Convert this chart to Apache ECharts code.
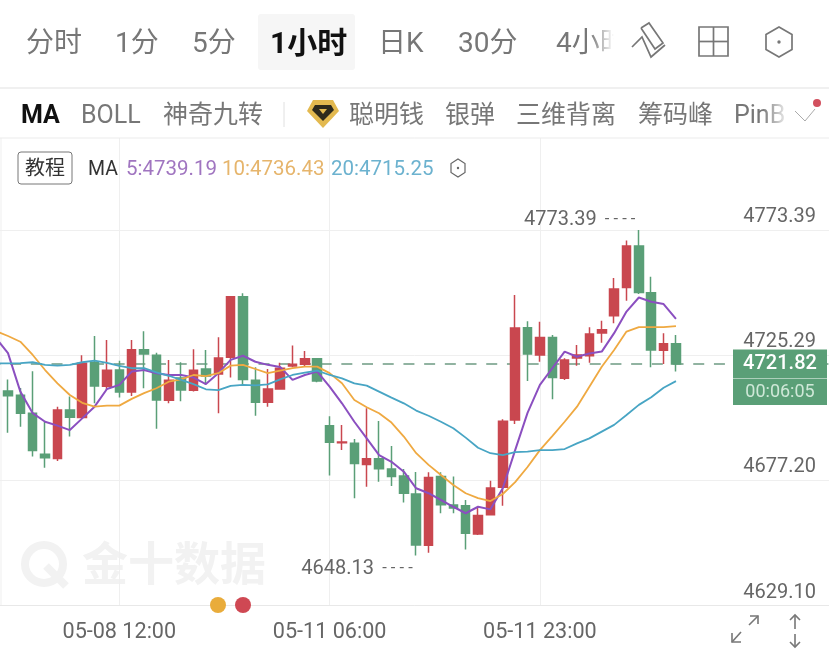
<!DOCTYPE html>
<html><head><meta charset="utf-8">
<style>html,body{margin:0;padding:0;background:#fff}#c{width:829px;height:651px}</style>
<script src="https://cdn.jsdelivr.net/npm/echarts@6/dist/echarts.min.js"></script>
</head><body><div id="c"></div>
<script>
// Categories: the first slot sits partly off the left edge (MA lines start there, candle scrolled out)
const times = ['05-08 02:00','05-08 03:00','05-08 04:00','05-08 05:00','05-08 06:00','05-08 07:00','05-08 08:00','05-08 09:00','05-08 10:00','05-08 11:00','05-08 12:00','05-08 13:00','05-08 14:00','05-08 15:00','05-08 16:00','05-08 17:00','05-08 18:00','05-08 19:00','05-08 20:00','05-08 21:00','05-08 22:00','05-08 23:00','05-09 00:00','05-09 01:00','05-09 02:00','05-09 03:00','05-09 04:00','05-11 06:00','05-11 07:00','05-11 08:00','05-11 09:00','05-11 10:00','05-11 11:00','05-11 12:00','05-11 13:00','05-11 14:00','05-11 15:00','05-11 16:00','05-11 17:00','05-11 18:00','05-11 19:00','05-11 20:00','05-11 21:00','05-11 22:00','05-11 23:00','05-12 00:00','05-12 01:00','05-12 02:00','05-12 03:00','05-12 04:00','05-12 05:00','05-12 06:00','05-12 07:00','05-12 08:00','05-12 09:00','05-12 10:00'];
const emptySlots = ['','','','','','','','','','','',''];
const xTickLabels = ['05-08 12:00','05-11 06:00','05-11 23:00'];
const yTickValues = [4629.10,4677.20,4725.29,4773.39];
const yMin = 4629.10, yMax = 4808.78;
const lastPrice = 4721.82, countdown = '00:06:05';
const highPrice = 4773.39, lowPrice = 4648.13;
// [open, close, low, high]
const candles = [
['-','-','-','-'],
[4711.4,4709.6,4695.4,4715.9],[4709.8,4702.9,4697.7,4712.6],[4702.9,4688.5,4686.2,4719.0],[4687.1,4685.8,4681.9,4699.6],[4685.5,4704.1,4684.5,4705.4],
[4704.1,4701.3,4693.9,4709.3],[4701.2,4722.1,4701.0,4725.2],[4722.5,4713.4,4706.7,4732.6],[4713.3,4719.4,4711.8,4731.1],[4719.5,4711.1,4708.9,4723.1],
[4711.1,4727.3,4709.5,4731.1],[4727.3,4725.7,4712.5,4734.4],[4725.2,4708.0,4696.9,4726.2],[4707.9,4715.6,4706.7,4723.4],[4716.4,4711.8,4707.5,4722.5],
[4711.7,4719.4,4711.2,4727.5],[4719.9,4717.2,4713.8,4727.2],[4718.0,4724.1,4702.9,4732.1],[4724.4,4747.7,4716.6,4748.0],[4747.7,4715.9,4713.8,4749.0],
[4715.6,4707.1,4701.9,4720.6],[4707.1,4712.2,4705.4,4719.9],[4712.2,4720.2,4712.0,4722.3],[4721.1,4721.7,4720.6,4728.9],[4721.7,4723.8,4721.1,4726.8],
[4723.8,4715.3,4714.8,4724.0],[4698.1,4691.7,4678.9,4701.7],[4691.5,4691.8,4688.7,4698.4],[4691.3,4683.5,4670.2,4693.0],[4683.2,4685.4,4674.6,4704.8],
[4685.4,4681.5,4676.5,4699.9],[4681.4,4678.5,4674.9,4690.3],[4678.7,4672.1,4668.5,4681.4],[4671.8,4652.2,4648.13,4680.3],[4652.1,4678.2,4649.2,4680.2],
[4678.5,4667.7,4664.4,4680.2],[4667.6,4666.4,4664.4,4678.5],[4667.3,4656.7,4650.5,4669.5],[4656.4,4663.5,4656.0,4666.5],[4663.8,4674.1,4663.6,4676.9],
[4674.4,4699.8,4667.3,4700.6],[4700.3,4735.7,4698.7,4748.4],[4735.8,4725.7,4715.3,4738.3],[4725.3,4732.0,4722.7,4738.1],[4732.0,4716.6,4708.3,4733.0],
[4716.3,4723.4,4715.7,4724.0],[4724.1,4725.3,4721.2,4729.1],[4725.0,4733.4,4722.3,4736.0],[4733.8,4735.0,4730.0,4738.5],[4740.4,4750.7,4737.5,4754.9],
[4751.3,4767.2,4746.2,4769.3],[4767.2,4749.3,4748.8,4773.39],[4749.2,4727.2,4720.6,4755.4],[4727.1,4729.6,4721.8,4733.7],[4729.6,4721.82,4718.9,4733.0]
];
const ma5 = [4732.0,4726.0,4711.2,4702.9,4699.6,4698.1,4696.4,4700.9,4705.4,4712.2,4713.8,4718.9,4719.5,4718.3,4717.6,4717.6,4716.6,4714.1,4718.3,4723.4,4725.0,4722.7,4721.5,4720.7,4715.7,4717.6,4718.9,4713.1,4706.7,4699.6,4693.2,4686.8,4684.2,4680.4,4674.0,4672.1,4669.5,4666.9,4664.4,4666.9,4665.9,4674.0,4688.7,4703.0,4713.8,4720.2,4726.6,4724.6,4725.9,4726.6,4733.7,4742.0,4747.4,4745.8,4744.9,4739.19];
const ma10 = [4734.5,4732.6,4730.4,4725.3,4719.5,4714.4,4709.9,4706.9,4705.4,4705.8,4705.8,4708.4,4710.6,4712.5,4715.0,4715.9,4717.6,4717.2,4718.3,4721.2,4721.5,4719.9,4718.3,4719.3,4720.2,4720.8,4720.8,4718.3,4714.4,4708.0,4705.2,4702.9,4699.3,4693.9,4687.5,4683.0,4679.1,4675.3,4672.1,4670.2,4669.1,4671.8,4676.4,4682.2,4688.7,4694.1,4699.6,4705.4,4713.1,4720.8,4727.2,4734.3,4736.0,4736.0,4736.0,4736.43];
const ma20 = [4722.1,4722.1,4722.2,4722.5,4721.5,4721.2,4721.5,4722.5,4723.1,4722.3,4721.1,4720.2,4720.2,4718.6,4717.3,4715.7,4714.1,4712.1,4711.8,4713.4,4713.8,4713.6,4714.0,4715.9,4717.6,4718.5,4719.3,4717.6,4716.3,4714.4,4713.5,4711.2,4708.9,4706.7,4703.9,4701.9,4699.6,4697.1,4693.5,4689.6,4687.5,4686.8,4687.9,4688.1,4688.7,4688.7,4689.1,4691.3,4693.2,4695.8,4698.4,4702.2,4706.1,4709.0,4712.7,4715.25];
const periodTabs = ['分时','1分','5分','1小时','日K','30分','4小时'];
const indicatorTabs = ['MA','BOLL','神奇九转','聪明钱','银弹','三维背离','筹码峰','PinB'];
const maLegend = ['5:4739.19','10:4736.43','20:4715.25'];

const RED='#C9474F', GREEN='#5A9F77', AX='#666', GRID='#EFEFEF';
const FONT='Roboto,"Noto Sans CJK SC",sans-serif';
const txt=(text,x,y,size,fill,weight,align,z)=>({type:'text',x,y,silent:true,z:z==null?100:z,style:{text,fill,textAlign:align||'left',textVerticalAlign:'middle',font:(weight||'normal')+' '+size+'px '+FONT}});
const ln=(x1,y1,x2,y2,c,w,z)=>({type:'line',silent:true,z:z==null?100:z,shape:{x1,y1,x2,y2},style:{stroke:c,lineWidth:w||1}});
const poly=(pts,c,w)=>({type:'polyline',silent:true,z:102,shape:{points:pts},style:{stroke:c,lineWidth:w||1.6,fill:null,lineJoin:'miter'}});
const hex=(cx,cy,rw,rh,c,w)=>[{type:'polygon',silent:true,z:102,shape:{points:[[cx,cy-rh],[cx+rw,cy-rh/2],[cx+rw,cy+rh/2],[cx,cy+rh],[cx-rw,cy+rh/2],[cx-rw,cy-rh/2]]},style:{stroke:c,lineWidth:w,fill:'none'}},{type:'circle',silent:true,z:102,shape:{cx,cy,r:w},style:{fill:c}}];
const fade=(x,y,w,h)=>({type:'rect',silent:true,z:101,shape:{x,y,width:w,height:h},style:{fill:new echarts.graphic.LinearGradient(0,0,1,0,[{offset:0,color:'rgba(255,255,255,0)'},{offset:1,color:'#fff'}])}});

const periodX=[26,115,192,270,378,458,556];
const indicatorX=[21,81,163,349,445,516,638,734];
const graphics=[
 // header
 {type:'rect',silent:true,z:50,shape:{x:258,y:14,width:97,height:56,r:3},style:{fill:'#F6F6F6'}},
 ...periodTabs.map((s,i)=>txt(s,periodX[i],45,i===3?30:28,i===3?'#111':'#777',i===3?'bold':'normal')),
 fade(590,20,24,50),
 {type:'rect',silent:true,z:101,shape:{x:614,y:15,width:215,height:55},style:{fill:'#fff'}},
 // pencil, grid, hexagon icons
 poly([[641,28],[649,23],[663,43],[655,49],[641,28]],'#777',1.7),
 poly([[632,47],[642,37],[651,57],[665,45]],'#777',1.7),
 {type:'rect',silent:true,z:102,shape:{x:699,y:27,width:29,height:29},style:{stroke:'#777',lineWidth:1.7,fill:'none'}},
 ln(713.5,27,713.5,56,'#777',1.7,102), ln(699,41.5,728,41.5,'#777',1.7,102),
 ...hex(779,42,13,15,'#777',1.7),
 ln(0,88,829,88,'#EBEBEB',1.5),
 ...indicatorTabs.map((s,i)=>txt(s,indicatorX[i],117,25,i===0?'#111':'#777',i===0?'bold':'normal')),
 ln(284,102,284,127,'#E0E0E0',1),
 {type:'polygon',silent:true,z:100,shape:{points:[[313,100],[333,100],[339,111],[323,128],[307,111]]},style:{fill:'#E3B94F'}},
 {type:'polygon',silent:true,z:100,shape:{points:[[315,105],[331,105],[334,110],[323,121],[312,110]]},style:{fill:'#2E2A1C'}},
 {type:'polygon',silent:true,z:100,shape:{points:[[319,109],[327,109],[323,114]]},style:{fill:'#E3B94F'}},
 fade(762,100,28,30),
 poly([[795,111],[805,121],[815,109]],'#AAA',1),
 {type:'circle',silent:true,z:102,shape:{cx:817,cy:103,r:4},style:{fill:'#D2505E'}},
 ln(0,138,829,138,'#EBEBEB',1),
 ln(1,138,1,605,GRID,1,0),
 // legend row
 {type:'rect',silent:true,z:100,shape:{x:18,y:152,width:54,height:32,r:3},style:{stroke:'#777',lineWidth:1,fill:'#fff'}},
 txt('教程',45,170,20,'#333','normal','center'),
 txt('MA',88,170,19.5,'#333'),
 txt(maLegend[0],126,170,20.5,'#A075C0'),
 txt(maLegend[1],222,170,20.5,'#E6B56C'),
 txt(maLegend[2],331,170,20.5,'#6CB2CF'),
 ...hex(458,168,7,9,'#666',1.2),
 // watermark
 {type:'circle',silent:true,z:0,shape:{cx:44,cy:564,r:19},style:{fill:'none',stroke:'#F2F2F2',lineWidth:8}},
 ln(46,566,66,586,'#F2F2F2',8,0),
 txt('金十数据',82,568,46,'#F2F2F2','bold','left',0),
 // pagination dots
 {type:'circle',silent:true,z:100,shape:{cx:218,cy:605,r:8},style:{fill:'#E9AC3B'}},
 {type:'circle',silent:true,z:100,shape:{cx:243,cy:605,r:8},style:{fill:'#CF4853'}},
 // bottom-right controls
 ln(741,632,732,642,'#777',1.6), poly([[732,633],[732,642],[741,642]],'#777',1.6),
 ln(749,625,758,616,'#777',1.6), poly([[750,616],[758,616],[758,624]],'#777',1.6),
 ln(795,615,795,629,'#777',1.6), poly([[790,620],[795,615],[800,620]],'#777',1.6),
 ln(795,634,795,647,'#777',1.6), poly([[790,642],[795,647],[800,642]],'#777',1.6)
];

const chart=echarts.init(document.getElementById('c'),null,{renderer:'canvas'});
const hit=v=>xTickLabels.includes(v);
chart.setOption({
 animation:false,
 backgroundColor:'#fff',
 textStyle:{fontFamily:FONT},
 graphic:{elements:graphics},
 grid:{left:-10.57,right:-1.6,top:138,bottom:46,containLabel:false,outerBoundsMode:'none'},
 xAxis:{type:'category',data:[...times,...emptySlots],boundaryGap:true,
  axisLine:{lineStyle:{color:'#E8E8E8',width:1}},axisTick:{show:false},
  axisLabel:{interval:(i,v)=>hit(v),color:AX,fontSize:21.6,margin:16.5,hideOverlap:false,fontFamily:FONT},
  splitLine:{show:true,alignWithLabel:true,interval:(i,v)=>hit(v),lineStyle:{color:GRID,width:1}}},
 yAxis:{type:'value',position:'right',min:yMin,max:yMax,scale:true,
  axisLine:{show:false},axisTick:{show:false,customValues:yTickValues},
  axisLabel:{customValues:yTickValues,inside:true,margin:14.6,color:AX,fontSize:20,verticalAlign:'bottom',lineHeight:25,formatter:v=>v.toFixed(2),showMinLabel:true,showMaxLabel:true,fontFamily:FONT},
  splitLine:{show:true,lineStyle:{color:GRID,width:1}}},
 series:[
  {type:'line',data:[],z:1,silent:true,
   markLine:{silent:true,z:1,symbol:['none','none'],animation:false,
    lineStyle:{color:'#6E9A83',type:[11,9.7],width:1.6},
    label:{show:true,position:'end',align:'right',verticalAlign:'top',distance:0,offset:[-3.6,-15],
     formatter:()=>'{a|'+lastPrice.toFixed(2)+'}\n{b|'+countdown+'}',
     rich:{a:{color:'#fff',fontSize:20,fontWeight:500,width:94,height:29,lineHeight:30,align:'center',backgroundColor:GREEN,fontFamily:FONT},
           b:{color:'#CFE8D8',fontSize:18,width:94,height:26,lineHeight:26,align:'center',backgroundColor:GREEN,fontFamily:FONT}}},
    data:[{yAxis:lastPrice}]}},
  {type:'candlestick',name:'K',data:candles,z:2,barWidth:9,
   itemStyle:{color:RED,color0:GREEN,borderColor:RED,borderColor0:GREEN,borderWidth:1.5},
   markPoint:{silent:true,symbol:'circle',symbolSize:1,animation:false,itemStyle:{color:'rgba(0,0,0,0)'},
    label:{show:true,position:'left',distance:3,offset:[0,-10],color:AX,fontFamily:FONT,
     formatter:p=>'{t|'+p.value.toFixed(2)+'}{d|  - - - -}',
     rich:{t:{fontSize:20,color:AX,fontFamily:FONT},d:{fontSize:16.5,color:AX,fontFamily:FONT}}},
    data:[{coord:[times[52],highPrice],value:highPrice},
          {coord:[times[34],lowPrice],value:lowPrice,label:{offset:[0,13]}}]}},
  {type:'line',name:'MA5',data:ma5,z:3,symbol:'none',smooth:false,silent:true,lineStyle:{color:'#8B4FC0',width:2}},
  {type:'line',name:'MA10',data:ma10,z:3,symbol:'none',smooth:false,silent:true,lineStyle:{color:'#EFA941',width:1.8}},
  {type:'line',name:'MA20',data:ma20,z:3,symbol:'none',smooth:false,silent:true,lineStyle:{color:'#48A5C4',width:1.8}}
 ]
});
</script></body></html>
